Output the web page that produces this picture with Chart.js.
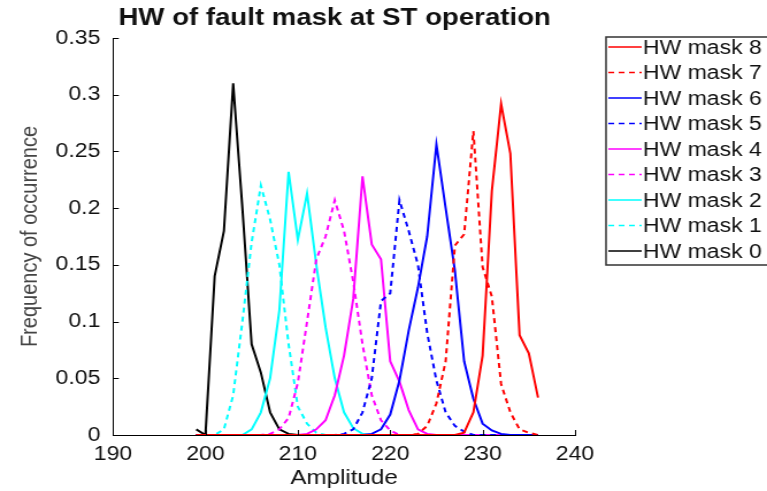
<!DOCTYPE html>
<html>
<head>
<meta charset="utf-8">
<script src="https://cdn.jsdelivr.net/npm/chart.js@4.4.1/dist/chart.umd.min.js"></script>
<style>
html, body { margin: 0; padding: 0; background: #fff; }
#wrap { width: 667px; height: 491px; transform: scaleX(1.15); transform-origin: 0 0; }
</style>
</head>
<body>
<div id="wrap"><canvas id="c" width="667" height="491"></canvas></div>
<script>
// amplitude values shared by all series
const amplitude = [199, 200, 201, 202, 203, 204, 205, 206, 207, 208, 209, 210, 211, 212, 213, 214, 215, 216, 217,
  218, 219, 220, 221, 222, 223, 224, 225, 226, 227, 228, 229, 230, 231, 232, 233, 234, 235, 236];

const mask8 = [0, 0, 0, 0, 0, 0, 0, 0, 0, 0, 0, 0, 0, 0, 0, 0, 0, 0, 0, 0, 0, 0, 0, 0, 0, 0, 0, 0,
  0, 0.002, 0.02, 0.07, 0.215, 0.292, 0.248, 0.088, 0.072, 0.033];
const mask7 = [0, 0, 0, 0, 0, 0, 0, 0, 0, 0, 0, 0, 0, 0, 0, 0, 0, 0, 0, 0, 0, 0, 0, 0,
  0.001, 0.008, 0.028, 0.065, 0.167, 0.177, 0.268, 0.148, 0.122, 0.045, 0.02, 0.005, 0.002, 0];
const mask6 = [0, 0, 0, 0, 0, 0, 0, 0, 0, 0, 0, 0, 0, 0, 0, 0, 0, 0, 0,
  0.001, 0.005, 0.018, 0.048, 0.092, 0.13, 0.175, 0.256, 0.2, 0.145, 0.065, 0.032, 0.01, 0.004, 0.001, 0, 0, 0, 0];
const mask5 = [0, 0, 0, 0, 0, 0, 0, 0, 0, 0, 0, 0, 0, 0, 0, 0,
  0.001, 0.005, 0.02, 0.05, 0.118, 0.125, 0.207, 0.18, 0.15, 0.09, 0.048, 0.02, 0.008, 0.003, 0, 0, 0, 0, 0, 0, 0, 0];
const mask4 = [0, 0, 0, 0, 0, 0, 0, 0, 0, 0, 0, 0,
  0.001, 0.005, 0.013, 0.035, 0.07, 0.12, 0.228, 0.168, 0.155, 0.065, 0.047, 0.022, 0.005, 0.001,
  0, 0, 0, 0, 0, 0, 0, 0, 0, 0, 0, 0];
const mask3 = [0, 0, 0, 0, 0, 0, 0, 0,
  0.001, 0.005, 0.015, 0.046, 0.1, 0.155, 0.175, 0.207, 0.18, 0.135, 0.08, 0.035, 0.013, 0.004,
  0, 0, 0, 0, 0, 0, 0, 0, 0, 0, 0, 0, 0, 0, 0, 0];
const mask2 = [0, 0, 0, 0, 0, 0,
  0.005, 0.02, 0.05, 0.11, 0.232, 0.172, 0.213, 0.15, 0.095, 0.05, 0.02, 0.006, 0.001,
  0, 0, 0, 0, 0, 0, 0, 0, 0, 0, 0, 0, 0, 0, 0, 0, 0, 0, 0, 0];
const mask1 = [0, 0, 0,
  0.005, 0.035, 0.1, 0.17, 0.22, 0.19, 0.15, 0.08, 0.025, 0.01, 0.002,
  0, 0, 0, 0, 0, 0, 0, 0, 0, 0, 0, 0, 0, 0, 0, 0, 0, 0, 0, 0, 0, 0, 0, 0];
const mask0 = [0.005, 0, 0.14, 0.18, 0.31, 0.2, 0.08, 0.055, 0.02, 0.005, 0.001,
  0, 0, 0, 0, 0, 0, 0, 0, 0, 0, 0, 0, 0, 0, 0, 0, 0, 0, 0, 0, 0, 0, 0, 0, 0, 0, 0];

const xTicks = [190, 200, 210, 220, 230, 240];
const yTicks = [0, 0.05, 0.1, 0.15, 0.2, 0.25, 0.3, 0.35];

const FONT = '"Liberation Sans", Arial, sans-serif';

function serie(label, values, color, dashed) {
  return {
    label: label,
    data: amplitude.map((a, i) => ({ x: a, y: values[i] })),
    borderColor: color,
    borderWidth: 2,
    borderDash: dashed ? [5, 4] : [],
    pointRadius: 0,
    tension: 0,
    fill: false
  };
}

// title, inward tick marks and boxed legend
const extras = {
  id: 'extras',
  afterDraw(chart) {
    const ctx = chart.ctx;
    const a = chart.chartArea;
    const sx = chart.scales.x, sy = chart.scales.y;
    ctx.save();

    ctx.strokeStyle = '#000';
    ctx.lineWidth = 1;
    xTicks.forEach(v => {
      const px = Math.round(sx.getPixelForValue(v)) + 0.5;
      ctx.beginPath(); ctx.moveTo(px, a.bottom); ctx.lineTo(px, a.bottom - 5); ctx.stroke();
    });
    yTicks.forEach(v => {
      const py = Math.round(sy.getPixelForValue(v)) + 0.5;
      ctx.beginPath(); ctx.moveTo(a.left, py); ctx.lineTo(a.left + 5, py); ctx.stroke();
    });

    ctx.fillStyle = '#111';
    ctx.font = 'bold 24px ' + FONT;
    ctx.textAlign = 'center';
    ctx.textBaseline = 'middle';
    ctx.fillText('HW of fault mask at ST operation', 291, 18);

    ctx.strokeStyle = '#333';
    ctx.lineWidth = 1.5;
    ctx.strokeRect(527, 37, 200, 228);
    ctx.textAlign = 'left';
    ctx.font = '20px ' + FONT;
    chart.data.datasets.forEach((d, i) => {
      const y = 47 + i * 25.5;
      ctx.beginPath();
      ctx.setLineDash(d.borderDash);
      ctx.strokeStyle = d.borderColor;
      ctx.lineWidth = 1.5;
      ctx.moveTo(529, y); ctx.lineTo(558, y); ctx.stroke();
      ctx.setLineDash([]);
      ctx.fillStyle = '#111';
      ctx.fillText(d.label, 559, y + 1);
    });
    ctx.restore();
  }
};

new Chart(document.getElementById('c'), {
  type: 'line',
  data: {
    datasets: [
      serie('HW mask 8', mask8, '#ff0000', false),
      serie('HW mask 7', mask7, '#ff0000', true),
      serie('HW mask 6', mask6, '#0000ff', false),
      serie('HW mask 5', mask5, '#0000ff', true),
      serie('HW mask 4', mask4, '#ff00ff', false),
      serie('HW mask 3', mask3, '#ff00ff', true),
      serie('HW mask 2', mask2, '#00ffff', false),
      serie('HW mask 1', mask1, '#00ffff', true),
      serie('HW mask 0', mask0, '#000000', false)
    ]
  },
  options: {
    responsive: false,
    animation: false,
    devicePixelRatio: 1,
    layout: { padding: { top: 38, right: 167, bottom: 0, left: 0 } },
    plugins: { legend: { display: false }, tooltip: { enabled: false } },
    scales: {
      x: {
        type: 'linear',
        min: 190, max: 240,
        afterBuildTicks: s => { s.ticks = xTicks.map(v => ({ value: v })); },
        afterFit: s => { s.height = 56; },
        grid: { display: false, drawTicks: false },
        border: { display: true, color: '#000', width: 1 },
        ticks: { color: '#111', font: { family: FONT, size: 20 }, padding: 7, maxRotation: 0 },
        title: { display: true, text: 'Amplitude', color: '#111', font: { family: FONT, size: 21 }, padding: { top: 0, bottom: 0 } }
      },
      y: {
        min: 0, max: 0.35,
        afterBuildTicks: s => { s.ticks = yTicks.map(v => ({ value: v })); },
        afterFit: s => { s.width = 98.3; },
        grid: { display: false, drawTicks: false },
        border: { display: true, color: '#000', width: 1 },
        ticks: { color: '#111', font: { family: FONT, size: 20 }, padding: 11, callback: v => String(+v.toFixed(2)) },
        title: { display: true, text: 'Frequency of occurrence', color: '#444', font: { family: FONT, size: 20 }, padding: { top: 14, bottom: 0 } }
      }
    }
  },
  plugins: [extras]
});
</script>
</body>
</html>
